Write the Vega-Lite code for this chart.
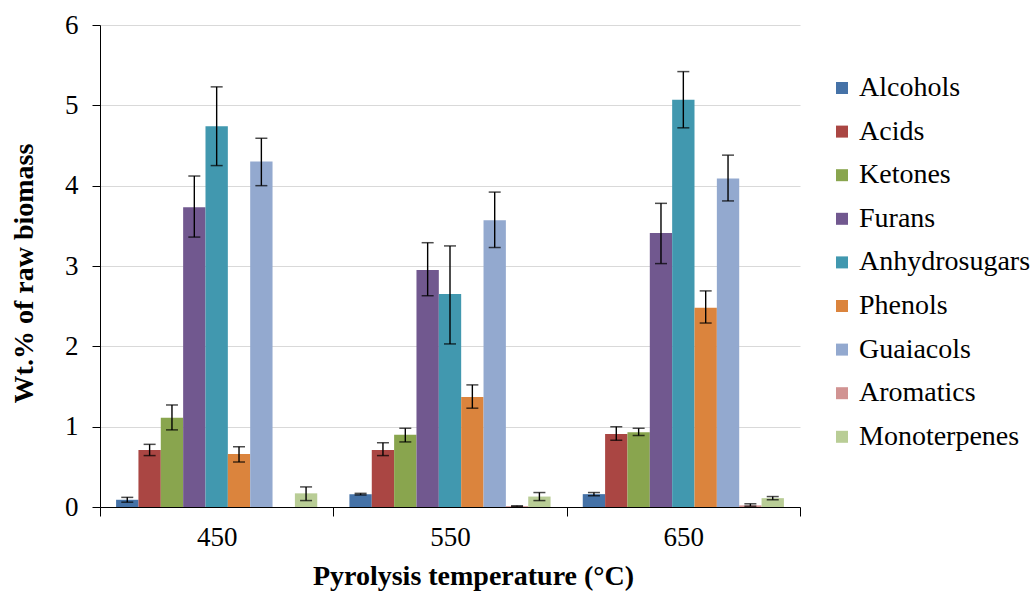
{
  "$schema": "https://vega.github.io/schema/vega-lite/v6.json",
  "width": 700,
  "height": 482,
  "autosize": {"type": "none"},
  "padding": {"left": 100, "top": 25, "right": 233, "bottom": 85},
  "background": "white",
  "config": {"view": {"stroke": null}, "font": "Liberation Serif"},
  "data": {"values": [
    {"temp": "450", "compound": "Alcohols", "value": 0.09, "lo": 0.06, "hi": 0.12},
    {"temp": "450", "compound": "Acids", "value": 0.71, "lo": 0.64, "hi": 0.78},
    {"temp": "450", "compound": "Ketones", "value": 1.11, "lo": 0.96, "hi": 1.27},
    {"temp": "450", "compound": "Furans", "value": 3.73, "lo": 3.36, "hi": 4.12},
    {"temp": "450", "compound": "Anhydrosugars", "value": 4.74, "lo": 4.25, "hi": 5.23},
    {"temp": "450", "compound": "Phenols", "value": 0.66, "lo": 0.56, "hi": 0.75},
    {"temp": "450", "compound": "Guaiacols", "value": 4.30, "lo": 4.00, "hi": 4.59},
    {"temp": "450", "compound": "Aromatics", "value": 0, "lo": null, "hi": null},
    {"temp": "450", "compound": "Monoterpenes", "value": 0.17, "lo": 0.08, "hi": 0.25},
    {"temp": "550", "compound": "Alcohols", "value": 0.16, "lo": 0.15, "hi": 0.17},
    {"temp": "550", "compound": "Acids", "value": 0.71, "lo": 0.64, "hi": 0.80},
    {"temp": "550", "compound": "Ketones", "value": 0.90, "lo": 0.81, "hi": 0.98},
    {"temp": "550", "compound": "Furans", "value": 2.95, "lo": 2.63, "hi": 3.29},
    {"temp": "550", "compound": "Anhydrosugars", "value": 2.65, "lo": 2.03, "hi": 3.25},
    {"temp": "550", "compound": "Phenols", "value": 1.37, "lo": 1.23, "hi": 1.52},
    {"temp": "550", "compound": "Guaiacols", "value": 3.57, "lo": 3.23, "hi": 3.92},
    {"temp": "550", "compound": "Aromatics", "value": 0.01, "lo": 0.005, "hi": 0.015},
    {"temp": "550", "compound": "Monoterpenes", "value": 0.13, "lo": 0.08, "hi": 0.18},
    {"temp": "650", "compound": "Alcohols", "value": 0.16, "lo": 0.14, "hi": 0.18},
    {"temp": "650", "compound": "Acids", "value": 0.91, "lo": 0.83, "hi": 1.00},
    {"temp": "650", "compound": "Ketones", "value": 0.93, "lo": 0.89, "hi": 0.98},
    {"temp": "650", "compound": "Furans", "value": 3.41, "lo": 3.03, "hi": 3.78},
    {"temp": "650", "compound": "Anhydrosugars", "value": 5.07, "lo": 4.72, "hi": 5.42},
    {"temp": "650", "compound": "Phenols", "value": 2.48, "lo": 2.29, "hi": 2.69},
    {"temp": "650", "compound": "Guaiacols", "value": 4.09, "lo": 3.81, "hi": 4.38},
    {"temp": "650", "compound": "Aromatics", "value": 0.02, "lo": 0.01, "hi": 0.04},
    {"temp": "650", "compound": "Monoterpenes", "value": 0.11, "lo": 0.09, "hi": 0.13}
  ]},
  "encoding": {
    "x": {
      "field": "temp", "type": "nominal",
      "scale": {"paddingInner": 0, "paddingOuter": 0},
      "axis": {
        "title": "Pyrolysis temperature (°C)",
        "labelAngle": 0, "labelFontSize": 27, "labelColor": "black", "labelPadding": 8,
        "tickBand": "extent", "tickSize": 9, "tickColor": "black", "domainColor": "black",
        "titleFontSize": 28, "titleFontWeight": "bold", "titleColor": "black", "titlePadding": 12,
        "titleX": 373,
        "grid": false
      }
    },
    "xOffset": {
      "field": "compound", "type": "nominal",
      "scale": {"domain": ["Alcohols", "Acids", "Ketones", "Furans", "Anhydrosugars", "Phenols", "Guaiacols", "Aromatics", "Monoterpenes"], "paddingInner": 0, "paddingOuter": 0.72}
    }
  },
  "layer": [
    {
      "mark": {"type": "bar"},
      "encoding": {
        "y": {
          "field": "value", "type": "quantitative", "title": "Wt.%  of raw biomass",
          "scale": {"domain": [0, 6]},
          "axis": {
            "values": [0, 1, 2, 3, 4, 5, 6], "format": "d",
            "labelFontSize": 27, "labelColor": "black", "labelPadding": 14,
            "tickSize": 8, "tickColor": "black", "domainColor": "black",
            "grid": true, "gridColor": "#d9d9d9",
            "titleFontSize": 28, "titleFontWeight": "bold", "titleColor": "black", "titlePadding": 26,
            "titleY": 248
          }
        },
        "color": {
          "field": "compound", "type": "nominal",
          "scale": {
            "domain": ["Alcohols", "Acids", "Ketones", "Furans", "Anhydrosugars", "Phenols", "Guaiacols", "Aromatics", "Monoterpenes"],
            "range": ["#4572A7", "#AA4643", "#89A54E", "#71588F", "#4198AF", "#DB843D", "#93A9CF", "#D19392", "#B9CD96"]
          },
          "legend": {
            "title": null, "orient": "none", "legendX": 728, "legendY": 49,
            "labelFontSize": 28, "labelColor": "black", "labelLimit": 300,
            "symbolType": "square", "symbolSize": 144, "symbolStrokeWidth": 0,
            "rowPadding": 15.6, "labelOffset": 3, "padding": 0
          }
        }
      }
    },
    {
      "mark": {"type": "rule", "color": "black", "strokeWidth": 1.4},
      "encoding": {
        "y": {"field": "lo", "type": "quantitative", "title": "Wt.%  of raw biomass"},
        "y2": {"field": "hi"}
      }
    },
    {
      "mark": {"type": "tick", "color": "black", "thickness": 1.5, "size": 12},
      "encoding": {
        "y": {"field": "lo", "type": "quantitative", "title": "Wt.%  of raw biomass"}
      }
    },
    {
      "mark": {"type": "tick", "color": "black", "thickness": 1.5, "size": 12},
      "encoding": {
        "y": {"field": "hi", "type": "quantitative", "title": "Wt.%  of raw biomass"}
      }
    }
  ]
}
